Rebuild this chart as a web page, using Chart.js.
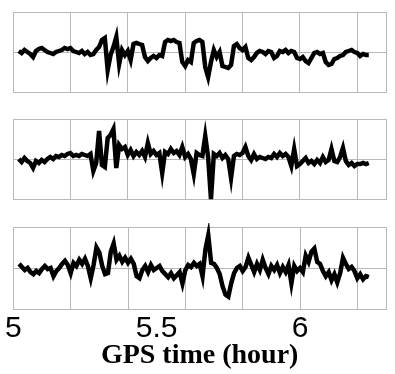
<!DOCTYPE html>
<html>
<head>
<meta charset="utf-8">
<script src="https://cdn.jsdelivr.net/npm/chart.js@4.4.1/dist/chart.umd.min.js"></script>
<style>
  html, body { margin: 0; padding: 0; background: #fff; overflow: hidden; }
  #wrap { position: relative; width: 395px; height: 374px; }
  .panel { position: absolute; left: 0; width: 395px; }
</style>
</head>
<body>
<div id="wrap">
  <div class="panel" style="top:0;height:104px"><canvas id="c1"></canvas></div>
  <div class="panel" style="top:107px;height:104px"><canvas id="c2"></canvas></div>
  <div class="panel" style="top:215px;height:155px"><canvas id="c3"></canvas></div>
</div>
<script>
// GPS time (hour), one sample every 0.01 h
var times = [5.02,5.03,5.04,5.05,5.06,5.07,5.08,5.09,5.10,5.11,5.12,5.13,5.14,5.15,5.16,5.17,5.18,5.19,5.20,
  5.21,5.22,5.23,5.24,5.25,5.26,5.27,5.28,5.29,5.30,5.31,5.32,5.33,5.34,5.35,5.36,5.37,5.38,5.39,5.40,
  5.41,5.42,5.43,5.44,5.45,5.46,5.47,5.48,5.49,5.50,5.51,5.52,5.53,5.54,5.55,5.56,5.57,5.58,5.59,5.60,
  5.61,5.62,5.63,5.64,5.65,5.66,5.67,5.68,5.69,5.70,5.71,5.72,5.73,5.74,5.75,5.76,5.77,5.78,5.79,5.80,
  5.81,5.82,5.83,5.84,5.85,5.86,5.87,5.88,5.89,5.90,5.91,5.92,5.93,5.94,5.95,5.96,5.97,5.98,5.99,6.00,
  6.01,6.02,6.03,6.04,6.05,6.06,6.07,6.08,6.09,6.10,6.11,6.12,6.13,6.14,6.15,6.16,6.17,6.18,6.19,6.20,
  6.21,6.22,6.23,6.24];

// top panel
var series1 = [1,-1,2,0,-2,-5,1,3,4,2,0,-1,-2,0,1,2,4,3,4,
  1,0,-1,1,-2,0,-3,-2,2,5,12,14,-18,-3,5,15,-12,2,-3,1,
  -8,8,9,8,7,-5,-9,-6,-4,-6,-3,-4,10,12,11,12,10,9,-10,-14,
  -8,-10,9,11,12,10,-15,-25,-10,2,-5,0,-14,-15,-16,-13,6,8,4,2,
  5,-6,-8,-5,-1,1,0,-2,1,0,-6,-4,1,0,2,-1,1,0,-6,-7,
  -5,-9,-11,-6,-1,0,-2,-1,-10,-13,-12,-7,-6,-4,-3,0,1,2,0,-1,
  -4,-2,-3,-3];

// middle panel
var series2 = [0,-3,1,-2,-4,-9,-2,-4,-1,-3,0,2,0,3,2,4,3,5,6,
  3,4,3,5,4,3,5,-12,-4,28,-6,-8,21,24,30,-9,14,10,12,4,
  9,3,7,4,8,2,16,5,8,4,6,-14,7,5,10,6,8,4,12,2,
  5,0,-15,6,4,3,23,2,-40,5,3,6,1,4,0,-19,3,5,4,6,
  12,3,-1,5,0,2,1,0,2,1,5,2,6,3,5,2,-7,10,-7,-5,
  -2,1,-4,-2,-5,-1,-4,2,-3,-1,10,-2,-3,2,11,-2,-6,-4,-7,-5,
  -5,-4,-5,-4];

// bottom panel
var series3 = [4,1,-2,0,-4,-6,-3,-5,-1,2,-1,0,-8,-3,0,4,7,3,-5,
  5,2,8,4,9,2,-10,3,20,15,2,-6,-5,16,24,8,12,6,10,5,
  9,4,-8,-10,-2,2,-4,3,-2,0,2,-3,-6,-9,-5,-10,-7,-4,-15,-2,
  3,1,5,2,4,-8,18,32,5,4,0,-6,-18,-26,-28,-15,-5,0,2,-3,
  1,10,3,-4,4,-2,8,0,-6,2,-2,3,-5,1,-4,3,-15,2,-3,0,
  -4,12,6,16,19,6,4,-3,-8,-4,-12,-6,-14,-5,10,4,-1,1,-3,-10,
  -6,-11,-8,-9];

var tickValues = [5, 5.2, 5.4, 5.5, 5.6, 5.8, 6, 6.2, 6.3];
var tickLabels = ['5', '', '', '5.5', '', '', '6', '', ''];

var gridColor = '#b8b8b8';

function makePanel(id, values, bottom) {
    var ctx = document.getElementById(id);
    var pts = times.map(function (t, i) { return {x: t, y: values[i]}; });
    return new Chart(ctx, {
        type: 'line',
        data: {
            datasets: [{
                data: pts,
                borderColor: '#000',
                borderWidth: 4.5,
                pointRadius: 0,
                tension: 0,
                clip: 4,
            }]
        },
        options: {
            responsive: true,
            maintainAspectRatio: false,
            animation: false,
            events: [],
            layout: {padding: {left: 13, right: 9, top: 12, bottom: bottom ? 0 : 12}},
            plugins: {legend: {display: false}, tooltip: {enabled: false}},
            scales: {
                x: {
                    type: 'linear',
                    min: 5,
                    max: 6.3,
                    afterBuildTicks: function (scale) {
                        scale.ticks = tickValues.map(function (v) { return {value: v}; });
                    },
                    grid: {
                        color: function (c) {
                            return (c.tick && c.tick.value === 5.5) ? 'rgba(0,0,0,0)' : gridColor;
                        },
                        lineWidth: 1,
                        drawTicks: false,
                    },
                    border: {display: true, color: gridColor},
                    ticks: {
                        display: bottom,
                        autoSkip: false,
                        maxRotation: 0,
                        padding: 5,
                        color: '#000',
                        font: {family: 'Liberation Sans', size: 30, lineHeight: 1},
                        callback: function (v, i) { return tickLabels[i]; },
                    },
                    title: {
                        display: bottom,
                        text: 'GPS time (hour)',
                        color: '#000',
                        font: {family: 'Liberation Serif', size: 28, weight: 'bold', lineHeight: 1},
                        padding: {top: -7, bottom: 0},
                    },
                },
                y: {
                    min: -40,
                    max: 40,
                    ticks: {display: false, stepSize: 40},
                    grid: {color: gridColor, lineWidth: 1, drawTicks: false},
                    border: {display: true, color: gridColor},
                }
            }
        }
    });
}

makePanel('c1', series1, false);
makePanel('c2', series2, false);
makePanel('c3', series3, true);
</script>
</body>
</html>
